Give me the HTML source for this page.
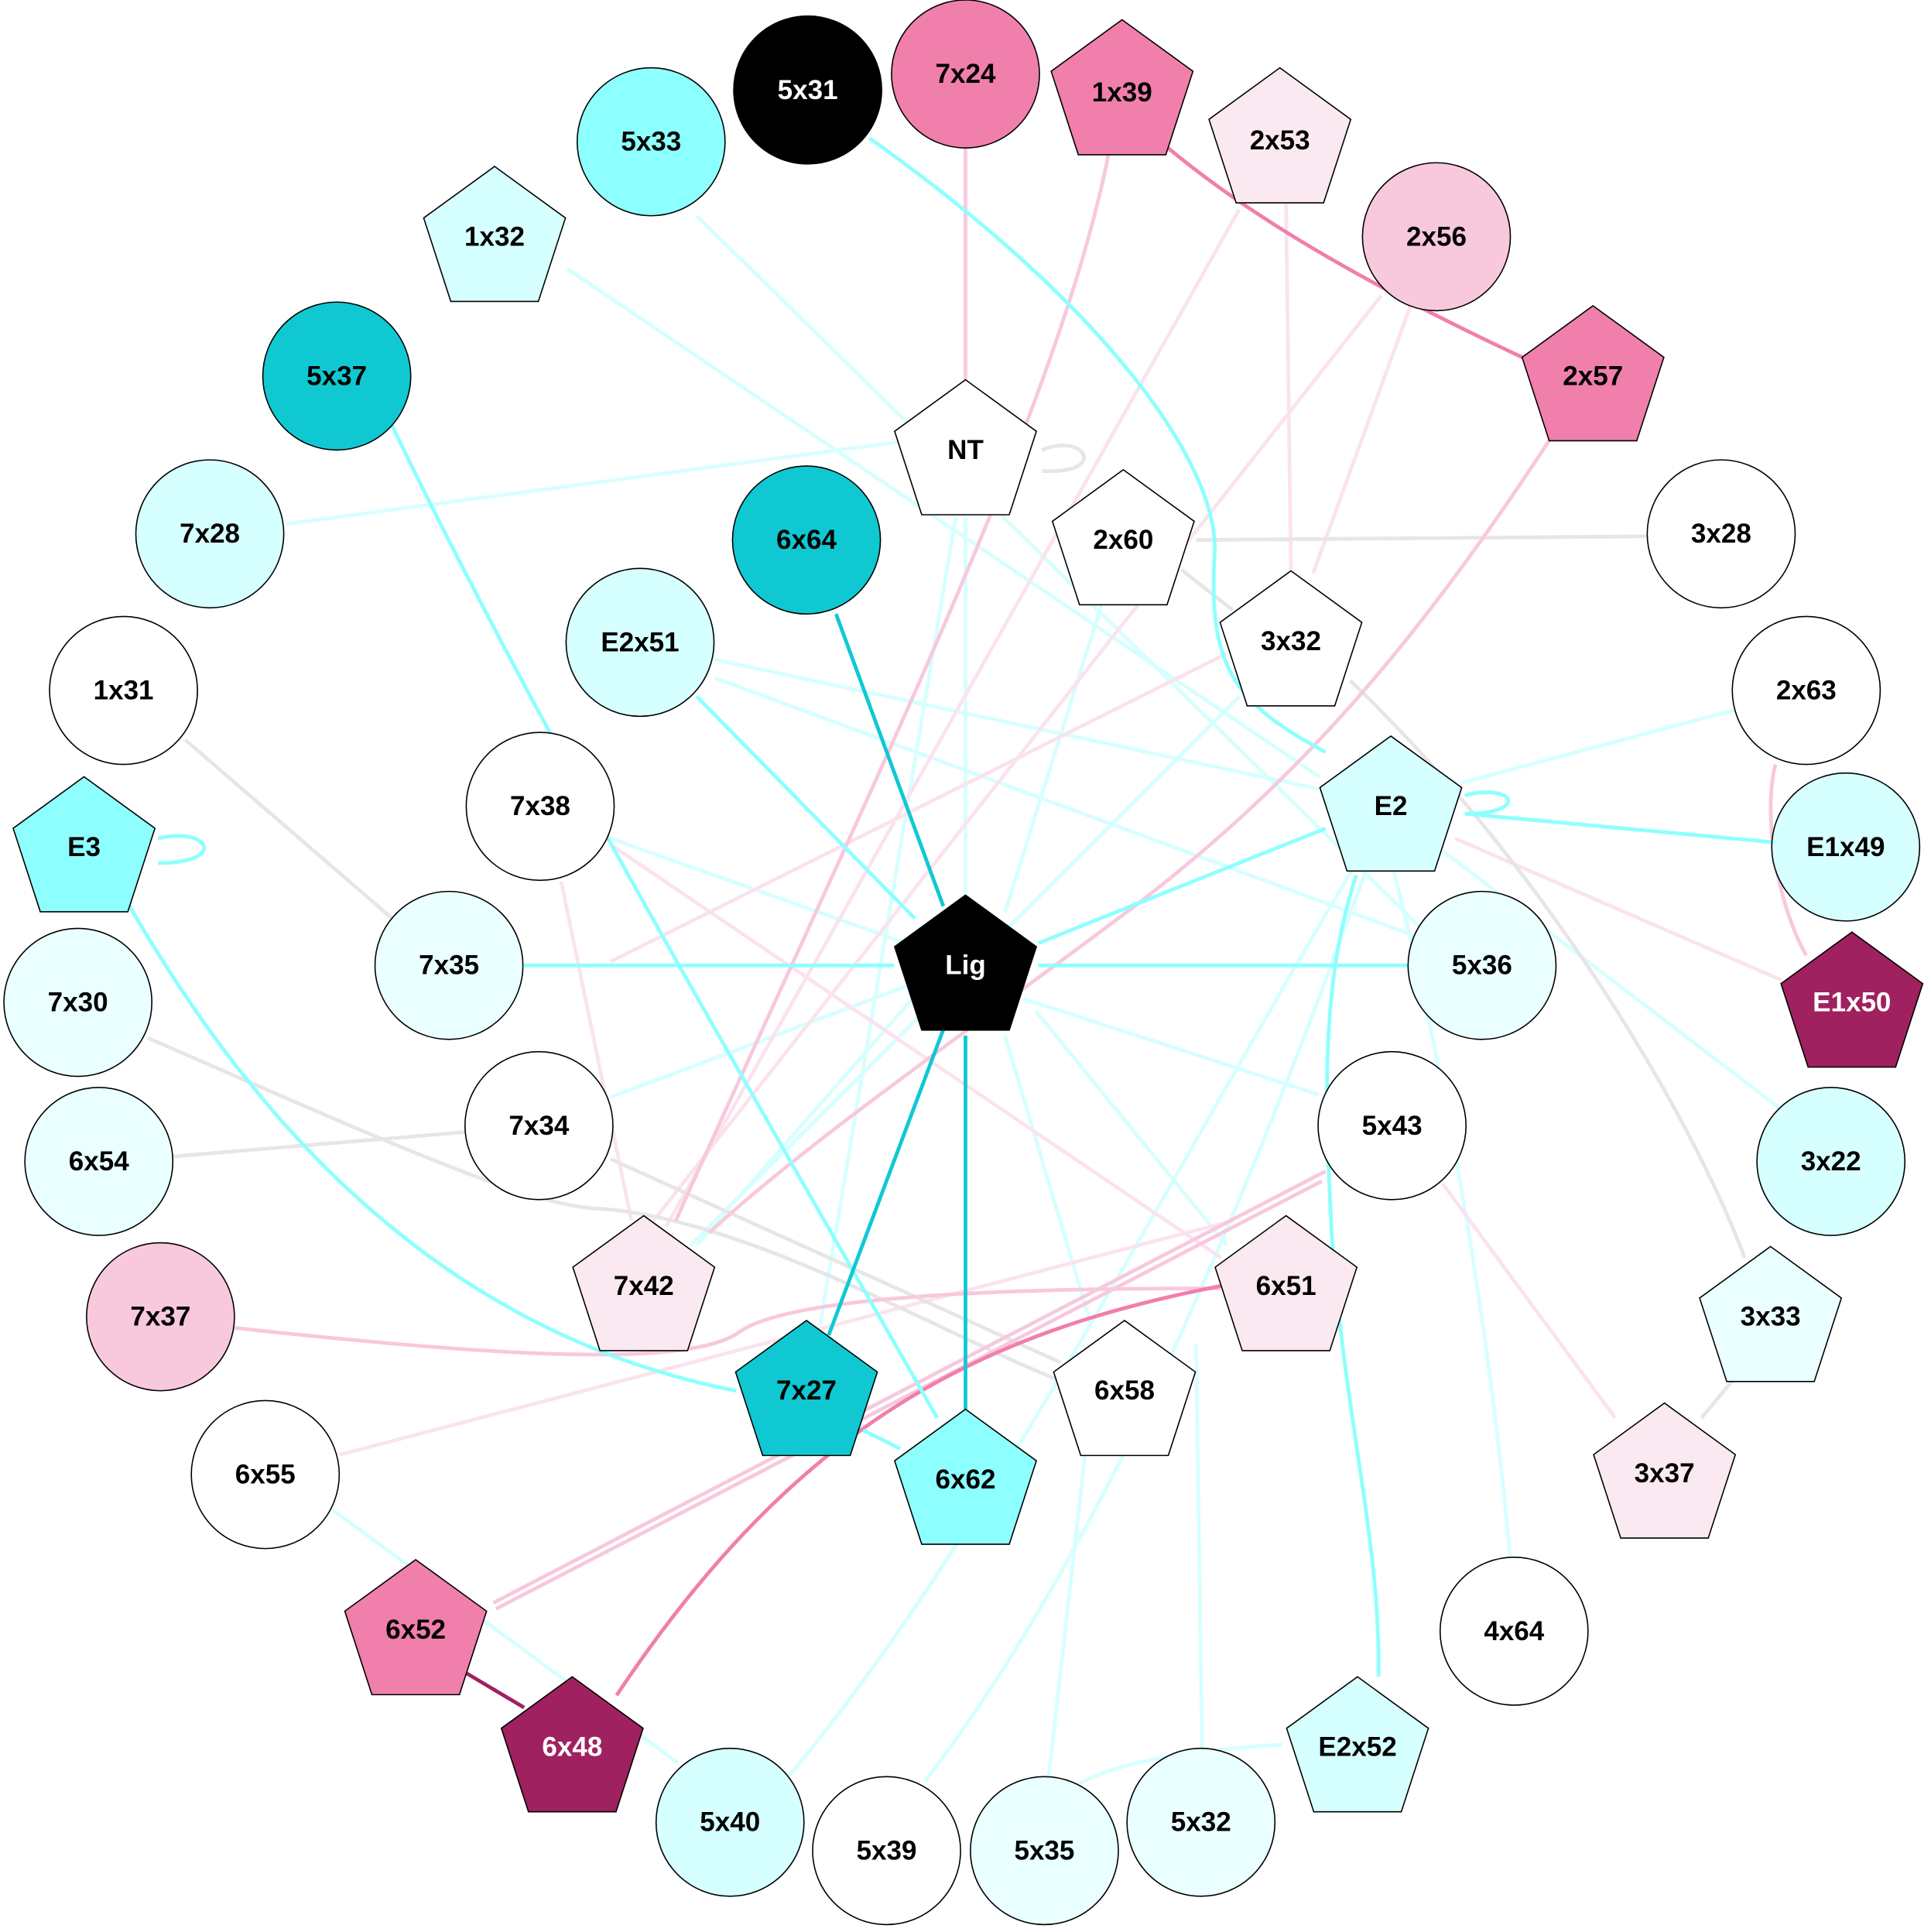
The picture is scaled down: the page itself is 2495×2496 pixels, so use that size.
<!DOCTYPE html>
<html><head><meta charset="utf-8"><style>html,body{margin:0;padding:0;background:#fff}svg{display:block}</style></head>
<body>
<svg xmlns="http://www.w3.org/2000/svg" width="2495" height="2496" viewBox="0 0 1566 1567">
<defs>
<polygon id="p" points="0,-59 57.5,-17.2 35.5,50.5 -35.5,50.5 -57.5,-17.2" stroke="#000" stroke-width="1"/>
</defs>
<rect width="1566" height="1567" fill="#fff"/>
<g fill="none" stroke-width="3">
<g stroke="#d6ffff">
<path d="M565,175 L1160,760"/>
<path d="M460,218 L1070,630"/>
<path d="M232,425 L755,355"/>
<path d="M783,420 L783,725"/>
<path d="M775,420 L665,1075"/>
<path d="M895,485 L815,740"/>
<path d="M1005,565 L560,1010"/>
<path d="M580,535 L1070,640"/>
<path d="M580,550 L1150,760"/>
<path d="M1410,575 L1185,635"/>
<path d="M495,680 L735,765"/>
<path d="M1170,690 L1445,900"/>
<path d="M1110,700 C1020,950 900,1250 750,1445"/>
<path d="M1100,700 C950,950 800,1250 640,1440"/>
<path d="M1130,705 C1180,900 1210,1100 1225,1265"/>
<path d="M735,800 L495,890"/>
<path d="M740,810 L565,1010"/>
<path d="M830,810 L1070,888"/>
<path d="M815,840 L885,1075"/>
<path d="M840,820 L995,1010"/>
<path d="M970,1090 L975,1420"/>
<path d="M270,1225 L550,1430"/>
<path d="M1040,1415 C960,1420 900,1430 870,1450"/>
<path d="M880,1180 L850,1445"/>
</g>
<g stroke="#fbe3ee">
<path d="M1043,165 L1047,462"/>
<path d="M1005,170 L540,995"/>
<path d="M1120,240 L530,990"/>
<path d="M1145,245 L1065,465"/>
<path d="M995,530 L495,780"/>
<path d="M495,685 L990,1020"/>
<path d="M455,715 L512,990"/>
<path d="M1180,680 L1445,795"/>
<path d="M1170,960 L1310,1150"/>
<path d="M275,1180 L1000,990"/>
</g>
<g stroke="#e6e6e6">
<path d="M970,438 L1337,435"/>
<path d="M958,462 L1000,495"/>
<path d="M1095,552 C1250,700 1370,900 1415,1020"/>
<path d="M150,600 L318,745"/>
<path d="M120,842 C300,920 420,975 480,980 C600,985 760,1080 860,1120"/>
<path d="M140,938 L380,918"/>
<path d="M495,940 L860,1105"/>
<path d="M1405,1120 L1380,1150"/>
<path d="M845,365 C880,350 900,385 845,382"/>
</g>
<g stroke="#f8c8dd">
<path d="M783,120 L783,308"/>
<path d="M900,120 C860,330 700,650 548,990"/>
<path d="M1258,355 C1150,520 1050,640 900,750 C780,840 650,930 575,1000"/>
<path d="M1075,950 L400,1300"/>
<path d="M1072,958 L402,1305"/>
<path d="M1440,620 C1430,660 1440,730 1465,775"/>
<path d="M190,1077 C400,1100 560,1110 600,1080 C650,1045 900,1045 990,1045"/>
</g>
<g stroke="#f07fab">
<path d="M945,118 C1030,190 1150,250 1235,290"/>
<path d="M990,1043 C800,1080 650,1150 500,1375"/>
</g>
<path d="M378,1357 L425,1385" stroke="#a0215f"/>
<g stroke="#8dffff">
<path d="M705,112 C900,250 990,380 985,450 C980,540 1000,570 1075,610"/>
<path d="M313,335 C420,560 560,800 760,1150"/>
<path d="M1188,645 C1230,635 1240,660 1188,660"/>
<path d="M1188,660 L1437,683"/>
<path d="M1075,672 L842,765"/>
<path d="M1100,710 C1070,800 1075,900 1080,1000 C1090,1150 1120,1250 1118,1360"/>
<path d="M128,680 C170,670 185,700 128,700"/>
<path d="M105,735 C200,900 350,1080 597,1128"/>
<path d="M425,783 L725,783"/>
<path d="M842,783 L1142,783"/>
<path d="M700,1160 L730,1175"/>
<path d="M565,565 L742,745"/>
</g>
<g stroke="#10c8d2">
<path d="M678,498 L765,735"/>
<path d="M765,835 L672,1083"/>
<path d="M783,840 L783,1143"/>
</g>
</g>
<g stroke="#000" stroke-width="1">
<circle cx="655" cy="73" r="60" fill="#000"/>
<circle cx="783" cy="60" r="60" fill="#f07fab"/>
<circle cx="528" cy="115" r="60" fill="#8dffff"/>
<circle cx="1165" cy="192" r="60" fill="#f8c8dd"/>
<circle cx="273" cy="305" r="60" fill="#10c8d2"/>
<circle cx="170" cy="433" r="60" fill="#d6ffff"/>
<circle cx="654" cy="438" r="60" fill="#10c8d2"/>
<circle cx="1396" cy="433" r="60" fill="#fff"/>
<circle cx="519" cy="521" r="60" fill="#d6ffff"/>
<circle cx="100" cy="560" r="60" fill="#fff"/>
<circle cx="1465" cy="560" r="60" fill="#fff"/>
<circle cx="438" cy="654" r="60" fill="#fff"/>
<circle cx="1497" cy="687" r="60" fill="#d6ffff"/>
<circle cx="364" cy="783" r="60" fill="#eaffff"/>
<circle cx="1202" cy="783" r="60" fill="#eaffff"/>
<circle cx="63" cy="813" r="60" fill="#eaffff"/>
<circle cx="437" cy="913" r="60" fill="#fff"/>
<circle cx="1129" cy="913" r="60" fill="#fff"/>
<circle cx="80" cy="942" r="60" fill="#eaffff"/>
<circle cx="1485" cy="942" r="60" fill="#d6ffff"/>
<circle cx="130" cy="1068" r="60" fill="#f8c8dd"/>
<circle cx="215" cy="1196" r="60" fill="#fff"/>
<circle cx="1228" cy="1323" r="60" fill="#fff"/>
<circle cx="592" cy="1478" r="60" fill="#d6ffff"/>
<circle cx="719" cy="1501" r="60" fill="#fff"/>
<circle cx="847" cy="1501" r="60" fill="#eaffff"/>
<circle cx="974" cy="1478" r="60" fill="#eaffff"/>
</g>
<g>
<use href="#p" x="910" y="75" fill="#f07fab"/>
<use href="#p" x="1038" y="114" fill="#fbe9f1"/>
<use href="#p" x="401" y="194" fill="#d6ffff"/>
<use href="#p" x="1292" y="307" fill="#f07fab"/>
<use href="#p" x="783" y="367" fill="#fff"/>
<use href="#p" x="911" y="440" fill="#fff"/>
<use href="#p" x="1047" y="522" fill="#fff"/>
<use href="#p" x="1128" y="656" fill="#d6ffff"/>
<use href="#p" x="68" y="689" fill="#8dffff"/>
<use href="#p" x="783" y="785" fill="#000"/>
<use href="#p" x="1502" y="815" fill="#a0215f"/>
<use href="#p" x="522" y="1045" fill="#fbe9f1"/>
<use href="#p" x="1043" y="1045" fill="#fbe9f1"/>
<use href="#p" x="1436" y="1070" fill="#eaffff"/>
<use href="#p" x="654" y="1130" fill="#10c8d2"/>
<use href="#p" x="912" y="1130" fill="#fff"/>
<use href="#p" x="783" y="1202" fill="#8dffff"/>
<use href="#p" x="1350" y="1197" fill="#fbe9f1"/>
<use href="#p" x="337" y="1324" fill="#f07fab"/>
<use href="#p" x="464" y="1419" fill="#a0215f"/>
<use href="#p" x="1101" y="1419" fill="#d6ffff"/>
</g>
<g font-family="Liberation Sans, Arial, sans-serif" font-weight="bold" font-size="22" text-anchor="middle" dominant-baseline="central" fill="#000">
<text x="655" y="73" fill="#fff">5x31</text>
<text x="783" y="60">7x24</text>
<text x="910" y="75">1x39</text>
<text x="1038" y="114">2x53</text>
<text x="528" y="115">5x33</text>
<text x="401" y="192">1x32</text>
<text x="1165" y="192">2x56</text>
<text x="1292" y="305">2x57</text>
<text x="273" y="305">5x37</text>
<text x="783" y="365">NT</text>
<text x="170" y="433">7x28</text>
<text x="654" y="438">6x64</text>
<text x="911" y="438">2x60</text>
<text x="1396" y="433">3x28</text>
<text x="519" y="521">E2x51</text>
<text x="1047" y="520">3x32</text>
<text x="100" y="560">1x31</text>
<text x="1465" y="560">2x63</text>
<text x="438" y="654">7x38</text>
<text x="1128" y="654">E2</text>
<text x="68" y="687">E3</text>
<text x="1497" y="687">E1x49</text>
<text x="364" y="783">7x35</text>
<text x="783" y="783" fill="#fff">Lig</text>
<text x="1202" y="783">5x36</text>
<text x="63" y="813">7x30</text>
<text x="1502" y="813" fill="#fff">E1x50</text>
<text x="437" y="913">7x34</text>
<text x="1129" y="913">5x43</text>
<text x="80" y="942">6x54</text>
<text x="1485" y="942">3x22</text>
<text x="522" y="1043">7x42</text>
<text x="1043" y="1043">6x51</text>
<text x="130" y="1068">7x37</text>
<text x="1436" y="1068">3x33</text>
<text x="654" y="1128">7x27</text>
<text x="912" y="1128">6x58</text>
<text x="783" y="1200">6x62</text>
<text x="215" y="1196">6x55</text>
<text x="1350" y="1195">3x37</text>
<text x="337" y="1322">6x52</text>
<text x="1228" y="1323">4x64</text>
<text x="464" y="1417" fill="#fff">6x48</text>
<text x="1101" y="1417">E2x52</text>
<text x="592" y="1478">5x40</text>
<text x="719" y="1501">5x39</text>
<text x="847" y="1501">5x35</text>
<text x="974" y="1478">5x32</text>
</g>
</svg>
</body></html>
